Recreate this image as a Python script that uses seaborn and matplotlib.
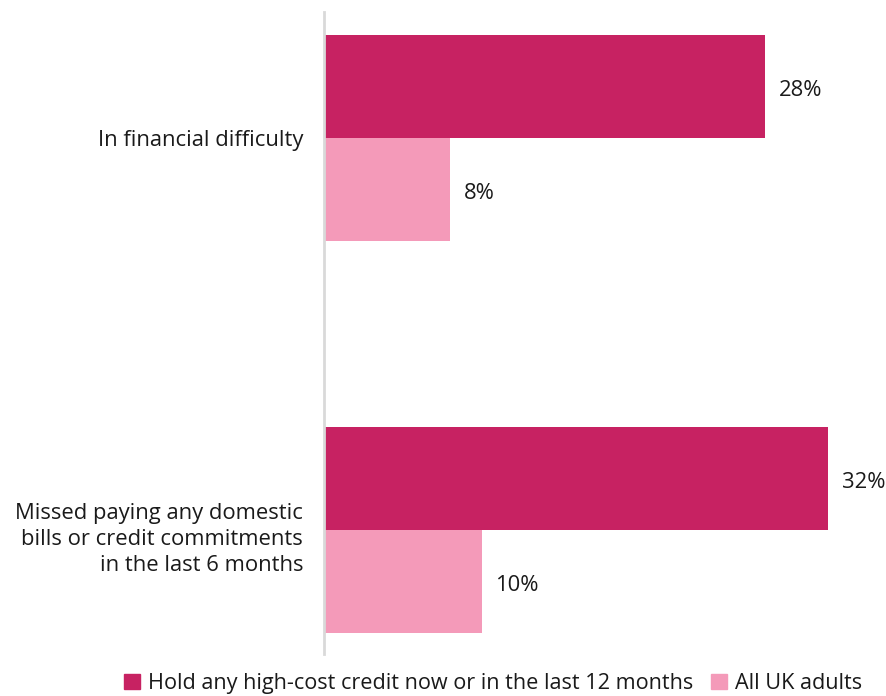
import matplotlib
matplotlib.use("Agg")
import matplotlib.pyplot as plt
import matplotlib.transforms as mtransforms
import seaborn as sns
import pandas as pd

categories = [
    "In financial difficulty",
    "Missed paying any domestic\nbills or credit commitments\nin the last 6 months",
]
series = ["Hold any high-cost credit now or in the last 12 months", "All UK adults"]
high_cost = [28, 32]
all_adults = [8, 10]
colors = ["#C72262", "#F49AB9"]

df = pd.DataFrame({
    "category": categories * 2,
    "series": [series[0]] * 2 + [series[1]] * 2,
    "value": high_cost + all_adults,
})

sns.set_theme(style="white")
plt.rcParams["font.family"] = ["Open Sans", "DejaVu Sans"]
text_color = "#1a1a1a"
fs = 15.8

fig = plt.figure(figsize=(8.87, 6.96), dpi=100)
ax = fig.add_axes([0.3653, 0.0603, 0.6156, 0.9224])

sns.barplot(data=df, y="category", x="value", hue="series", orient="h",
            palette=colors, saturation=1, width=0.526, ax=ax, legend=False,
            order=categories, hue_order=series, linewidth=0)

ax.set_xlim(0, 34.67)
ax.set_ylim(1.318, -0.322)
ax.set_xlabel("")
ax.set_ylabel("")
ax.set_xticks([])
for s in ["top", "right", "bottom"]:
    ax.spines[s].set_visible(False)
ax.spines["left"].set_color("#d9d9d9")
ax.spines["left"].set_linewidth(2)
ax.tick_params(axis="y", length=0, pad=15, labelsize=fs, labelcolor=text_color)

# nudge the wrapped category label down a little and open its line spacing
for lbl in ax.get_yticklabels():
    if "\n" in lbl.get_text():
        lbl.set_linespacing(1.3)
        lbl.set_transform(lbl.get_transform() +
                          mtransforms.ScaledTranslation(0, -5 / 100, fig.dpi_scale_trans))

for container in ax.containers:
    texts = ax.bar_label(container, labels=[f"{v:.0f}%" for v in container.datavalues],
                         padding=10, fontsize=fs, color=text_color)
    for t in texts:
        t.xyann = (t.xyann[0], t.xyann[1] - 3)

handles = [plt.Rectangle((0, 0), 1, 1, color=c) for c in colors]
fig.legend(handles, series, loc="lower center", bbox_to_anchor=(0.556, -0.025),
           ncol=2, frameon=False, fontsize=15.6, handlelength=0.72,
           handleheight=0.72, handletextpad=0.4, columnspacing=0.8,
           labelcolor=text_color)

fig.savefig("out.png", dpi=100)
